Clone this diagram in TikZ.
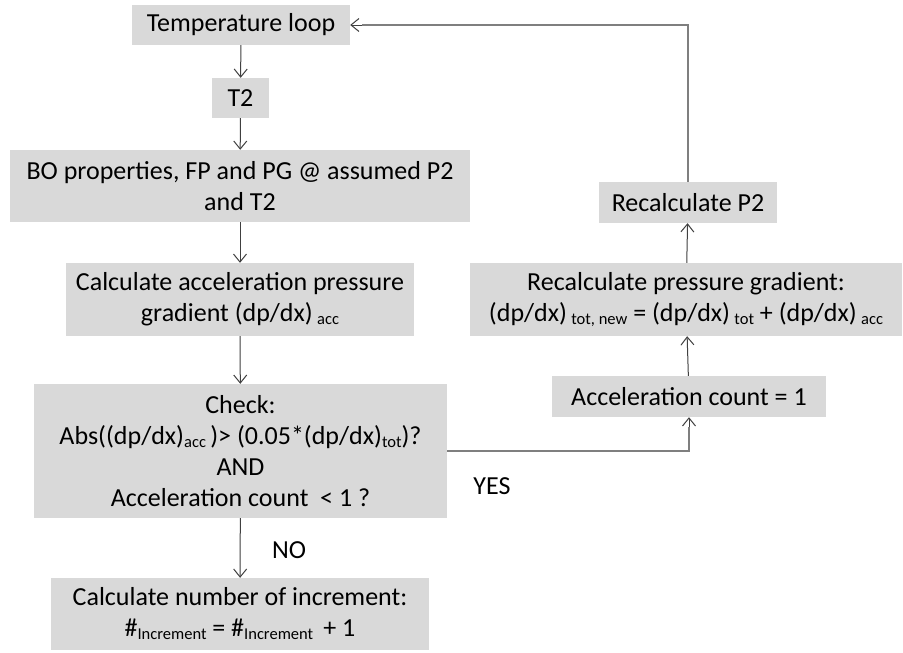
\documentclass[tikz,border=0pt]{standalone}
\usepackage{fontspec}
\setmainfont{Carlito}
\usetikzlibrary{arrows.meta}
\definecolor{boxgray}{HTML}{D9D9D9}
\definecolor{linedark}{HTML}{404040}
\definecolor{linegray}{HTML}{7F7F7F}
% small lowered index text, e.g. (dp/dx) with "acc"
\newcommand{\idx}[1]{\raisebox{-3pt}{\fontsize{16.5}{16.5}\selectfont #1}}
\begin{document}
\begin{tikzpicture}[x=1pt,y=-1pt,
  every node/.style={font=\fontsize{26}{31}\selectfont},
  flowbox/.style={fill=boxgray, draw=none, inner sep=0pt, align=center},
  thinarrow/.style={draw=linedark, line width=1pt,
    -{Straight Barb[length=8pt,width=13pt,line width=1pt]}},
  backline/.style={draw=linegray, line width=1.8pt},
  lbl/.style={inner sep=0pt}]
\useasboundingbox[fill=white] (0,0) rectangle (903,653);

\node[flowbox, minimum width=218pt, minimum height=40pt] (loop) at (241,25) {Temperature loop};
\node[flowbox, minimum width=57pt, minimum height=40pt] (t2) at (240.5,98) {T2};
\node[flowbox, minimum width=460pt, minimum height=72pt] (bo) at (240,186)
  {BO properties, FP and PG @ assumed P2\\and T2};
\node[flowbox, minimum width=348pt, minimum height=73pt] (acc) at (240,299.5)
  {Calculate acceleration pressure\\gradient (dp/dx)\,\idx{acc}};
\node[flowbox, minimum width=413pt, minimum height=134pt] (chk) at (240.5,451)
  {Check:\\Abs((dp/dx)\idx{acc}\,)> (0.05*(dp/dx)\idx{tot})?\\AND\\Acceleration count \ < 1 ?};
\node[flowbox, minimum width=378pt, minimum height=72pt] (inc) at (240,614)
  {Calculate number of increment:\\\#\idx{Increment} = \#\idx{Increment} \,+ 1};
\node[flowbox, minimum width=178pt, minimum height=41pt] (p2) at (688,202.5) {Recalculate P2};
\node[flowbox, minimum width=432pt, minimum height=73pt] (grad) at (686,299.5)
  {Recalculate pressure gradient:\\(dp/dx)\,\idx{tot, new} = (dp/dx)\,\idx{tot} + (dp/dx)\,\idx{acc}};
\node[flowbox, minimum width=274pt, minimum height=41pt] (cnt) at (689,396.5) {Acceleration count = 1};

\node[lbl, anchor=west] (no) at (272,550) {NO};
\node[lbl] (yes) at (492,486) {YES};

% main downward chain
\draw[thinarrow] (loop) -- (t2);
\draw[thinarrow] (t2) -- (bo);
\draw[thinarrow] (bo) -- (acc);
\draw[thinarrow] (acc) -- (chk);
\draw[thinarrow] (chk) -- (inc);

% YES branch up the right column
\draw[backline] (chk.east) -| ([yshift=-10pt]cnt.south);
\draw[thinarrow] ([yshift=-10pt]cnt.south) -- (cnt.south);
\draw[thinarrow] (cnt) -- (grad);
\draw[thinarrow] (grad) -- (p2);

% return to the temperature loop
\draw[backline] (p2.north) |- ([xshift=12pt]loop.east);
\draw[thinarrow] ([xshift=12pt]loop.east) -- (loop.east);
\end{tikzpicture}
\end{document}
